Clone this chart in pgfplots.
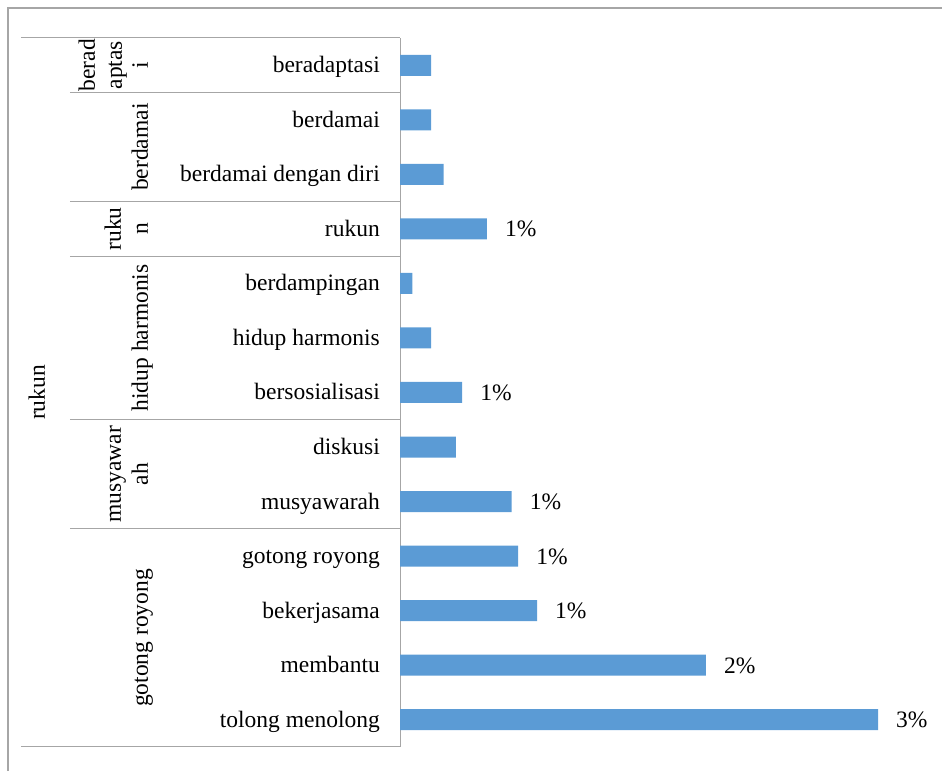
\documentclass[border=0pt]{standalone}
\usepackage{fontspec}
\setmainfont{Liberation Serif}
\usepackage{pgfplots}
\pgfplotsset{compat=1.18}
\definecolor{barblue}{HTML}{5B9BD5}
\definecolor{linegray}{HTML}{A6A6A6}
\newcommand{\fs}{\fontsize{23.5}{27}\selectfont}
\begin{document}
\begin{tikzpicture}[x=1pt,y=1pt]
\useasboundingbox (0,0) rectangle (942,771);
\draw[linegray, line width=1.2pt] (8,0) -- (8,763) -- (942,763);
\begin{axis}[
  at={(400pt,24pt)}, anchor=south west,
  width=500pt, height=709pt, scale only axis,
  xbar, bar width=21pt, bar shift=0pt,
  xmin=0, xmax=3.138,
  ymin=0.5, ymax=13.5,
  hide x axis,
  axis y line*=left,
  y axis line style={draw=linegray, line width=1pt, -},
  ytick={1,...,13},
  yticklabels={tolong menolong, membantu, bekerjasama, gotong royong, musyawarah, diskusi, bersosialisasi, hidup harmonis, berdampingan, rukun, berdamai dengan diri, berdamai, beradaptasi},
  major tick length=0pt,
  yticklabel style={font=\fs, anchor=base east, inner sep=0pt, xshift=-20pt, yshift=-7.5pt},
  clip=false,
  nodes near coords, point meta=explicit symbolic,
  every node near coord/.append style={font=\fs, anchor=base west, inner sep=0pt, xshift=18pt, yshift=-8pt, black},
]
\addplot[fill=barblue, draw=none] coordinates {
(3.0,1) [3\%]
(1.92,2) [2\%]
(0.86,3) [1\%]
(0.741,4) [1\%]
(0.701,5) [1\%]
(0.351,6) [{}]
(0.390,7) [1\%]
(0.195,8) [{}]
(0.078,9) [{}]
(0.545,10) [1\%]
(0.273,11) [{}]
(0.195,12) [{}]
(0.195,13) [{}]
};
% category table lines
\draw[linegray, line width=1pt] ([xshift=-379pt]axis cs:0,13.5) -- (axis cs:0,13.5);
\draw[linegray, line width=1pt] ([xshift=-379pt]axis cs:0,0.5) -- (axis cs:0,0.5);
\draw[linegray, line width=1pt] ([xshift=-330pt]axis cs:0,12.5) -- (axis cs:0,12.5);
\draw[linegray, line width=1pt] ([xshift=-330pt]axis cs:0,10.5) -- (axis cs:0,10.5);
\draw[linegray, line width=1pt] ([xshift=-330pt]axis cs:0,9.5) -- (axis cs:0,9.5);
\draw[linegray, line width=1pt] ([xshift=-330pt]axis cs:0,6.5) -- (axis cs:0,6.5);
\draw[linegray, line width=1pt] ([xshift=-330pt]axis cs:0,4.5) -- (axis cs:0,4.5);
% group labels
\node[rotate=90, anchor=base, font=\fs, inner sep=0pt] at ([xshift=-305pt]axis cs:0,13) {berad};
\node[rotate=90, anchor=base, font=\fs, inner sep=0pt] at ([xshift=-278pt]axis cs:0,13) {aptas};
\node[rotate=90, anchor=base, font=\fs, inner sep=0pt] at ([xshift=-252pt]axis cs:0,13) {i};
\node[rotate=90, anchor=base, font=\fs, inner sep=0pt] at ([xshift=-252pt]axis cs:0,11.5) {berdamai};
\node[rotate=90, anchor=base, font=\fs, inner sep=0pt] at ([xshift=-279pt]axis cs:0,10) {ruku};
\node[rotate=90, anchor=base, font=\fs, inner sep=0pt] at ([xshift=-252pt]axis cs:0,10) {n};
\node[rotate=90, anchor=base, font=\fs, inner sep=0pt] at ([xshift=-252pt]axis cs:0,8) {hidup harmonis};
\node[rotate=90, anchor=base, font=\fs, inner sep=0pt] at ([xshift=-279pt]axis cs:0,5.5) {musyawar};
\node[rotate=90, anchor=base, font=\fs, inner sep=0pt] at ([xshift=-252pt]axis cs:0,5.5) {ah};
\node[rotate=90, anchor=base, font=\fs, inner sep=0pt] at ([xshift=-252pt]axis cs:0,2.5) {gotong royong};
\node[rotate=90, anchor=base, font=\fs, inner sep=0pt] at ([xshift=-355pt]axis cs:0,7) {rukun};
\end{axis}
\end{tikzpicture}
\end{document}
